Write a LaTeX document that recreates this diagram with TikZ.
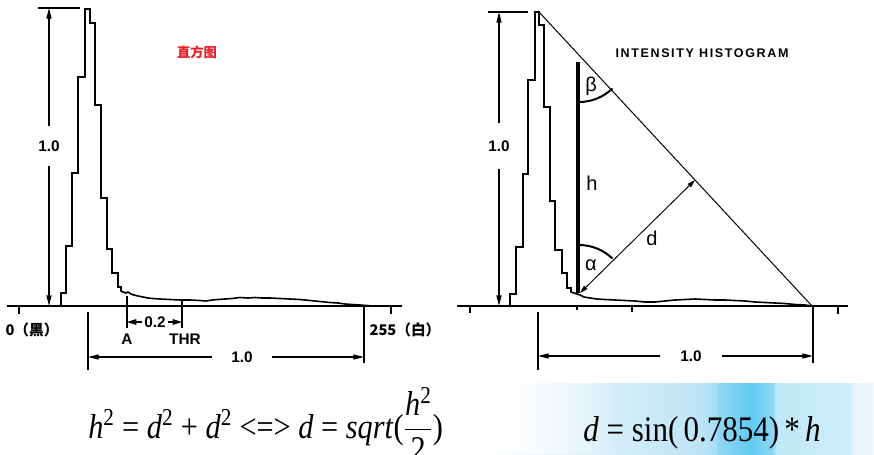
\documentclass[tikz,border=0pt]{standalone}
\usepackage{fontspec}
\usepackage{graphicx}
\setmainfont{Liberation Serif}
\newfontfamily\lsans{Liberation Sans}
\newfontfamily\cjk{Noto Sans CJK SC}
\usetikzlibrary{arrows.meta,fadings}
\definecolor{redlbl}{HTML}{E8202A}
\definecolor{bgA}{HTML}{F4FAFD}
\definecolor{bgB}{HTML}{D9EFF9}
\definecolor{bgC}{HTML}{BDE5F7}
\definecolor{bgD}{HTML}{A9DEF6}
\definecolor{bgE}{HTML}{8FD7F4}
\definecolor{bgF}{HTML}{62CBF2}
\definecolor{bgG}{HTML}{8AD6F4}
\definecolor{bgH}{HTML}{C0E8F8}
\definecolor{bgI}{HTML}{CDEEFA}
\definecolor{bgJ}{HTML}{E8F6FC}
\definecolor{bgK}{HTML}{EEF8FD}
\pgfdeclarehorizontalshading{bluebg}{100bp}{color(0bp)=(white); color(25bp)=(white); color(31bp)=(bgA); color(41bp)=(bgB); color(53.5bp)=(bgC); color(55.3bp)=(bgD); color(55.7bp)=(bgE); color(59.7bp)=(bgF); color(62.4bp)=(bgG); color(62.9bp)=(bgH); color(72bp)=(bgI); color(72.5bp)=(bgJ); color(75bp)=(bgK); color(100bp)=(bgK)}
\tikzfading[name=fadeR, left color=transparent!0, right color=transparent!100]
\begin{document}
\begin{tikzpicture}[x=0.75pt,y=-0.75pt,
  axisline/.style={line width=1.5pt},
  histo/.style={line width=1.2pt, line join=miter},
  dimline/.style={line width=0.8pt},
  dimarr/.style={line width=0.8pt, -{Triangle[length=8pt,width=3.8pt]}},
  smallarr/.style={line width=0.7pt, {Triangle[length=6pt,width=3.4pt]}-{Triangle[length=6pt,width=3.4pt]}},
  lbl/.style={font=\lsans\bfseries\fontsize{11.5}{13}\selectfont, inner sep=0pt},
  greek/.style={font=\lsans\fontsize{15}{17}\selectfont, inner sep=0pt},
  cjklbl/.style={font=\cjk\bfseries\fontsize{11}{13}\selectfont, inner sep=0pt},
  formula/.style={inner sep=0pt, anchor=base west}
]
\useasboundingbox (0,0) rectangle (874,454);
\clip (0,0) rectangle (874,454);
% background
\shade[shading=bluebg] (470,383) rectangle (874,454);
\fill[white, path fading=fadeR] (470,383) rectangle (620,454);

% ===================== LEFT HISTOGRAM =====================
\coordinate (LaxW) at (7,306);
\coordinate (LaxE) at (402,306);
\draw[axisline] (LaxW) -- (LaxE);
\coordinate (Lt1a) at (19,306); \coordinate (Lt1b) at (19,314);
\coordinate (Lt2a) at (391,306); \coordinate (Lt2b) at (391,314);
\draw[dimline] (Lt1a) -- (Lt1b) (Lt2a) -- (Lt2b);
\draw[histo] (49,306) -- (61,306) -- (61,293) -- (66,293) -- (66,246) -- (72,246) -- (72,173) -- (78,173) -- (78,77) -- (85,77) -- (85,9) -- (90,9) -- (90,23) -- (95,23) -- (95,105) -- (101,105) -- (101,198) -- (107,198) -- (107,249) -- (112,249) -- (112,273) -- (118,273) -- (118,287) -- (121,287) -- (121,291)
 -- (123,292) -- (126,293) -- (128,292) -- (131,294) -- (134,295) -- (138,296) -- (143,297) -- (148,298) -- (153,298.5) -- (160,299) -- (170,299.5) -- (180,300) -- (190,300) -- (200,300.5) -- (206,301) -- (212,300) -- (218,299.5) -- (225,299) -- (232,298.5) -- (240,297.5) -- (248,298) -- (255,297.5) -- (262,298) -- (270,298) -- (280,298.5) -- (290,299) -- (300,299.5) -- (310,300.5) -- (320,301.5) -- (330,302.5) -- (338,303) -- (345,304) -- (352,304.5) -- (360,305) -- (367,305.5) -- (372,306);
% vertical dimension
\coordinate (LtopA) at (38,8); \coordinate (LtopB) at (80,8);
\draw[dimline] (LtopA) -- (LtopB);
\node[lbl, minimum height=29pt] (Lv) at (49,146) {1.0};
\coordinate (Lvt) at (49,8); \coordinate (Lvb) at (49,306);
\draw[dimarr] (Lv) -- (Lvt);
\draw[dimarr] (Lv) -- (Lvb);
% red title
\node[font=\cjk\bfseries\fontsize{10}{12}\selectfont, text=redlbl, inner sep=0pt] (Ltitle) at (197,52) {直方图};
% axis labels
\node[cjklbl] (L0) at (32,330) {0（黑）};
\node[cjklbl] (L255) at (405,330) {255（白）};
% A / THR
\coordinate (Aa) at (127,296); \coordinate (Ab) at (127,328);
\coordinate (Ta) at (182,300); \coordinate (Tb) at (182,328);
\draw[dimline] (Aa) -- (Ab) (Ta) -- (Tb);
\node[lbl, minimum width=19pt] (L02) at (155,322) {0.2};
\coordinate (A2) at (127,322); \coordinate (T2) at (182,322);
\draw[line width=0.8pt, -{Triangle[length=7pt,width=4.2pt]}] (L02) -- (A2);
\draw[line width=0.8pt, -{Triangle[length=7pt,width=4.2pt]}] (L02) -- (T2);
\node[lbl] (LA) at (127,339) {A};
\node[lbl] (LTHR) at (185,339) {THR};
% bottom dimension
\coordinate (Lb1a) at (88,312); \coordinate (Lb1b) at (88,370);
\coordinate (Lb2a) at (364,306); \coordinate (Lb2b) at (364,363);
\draw[dimline] (Lb1a) -- (Lb1b) (Lb2a) -- (Lb2b);
\node[lbl, minimum width=45pt] (Lh) at (242,357) {1.0};
\coordinate (Lhl) at (88,357); \coordinate (Lhr) at (364,357);
\draw[dimarr] (Lh) -- (Lhl);
\draw[dimarr] (Lh) -- (Lhr);

% ===================== RIGHT HISTOGRAM =====================
\coordinate (RaxW) at (457,306);
\coordinate (RaxE) at (848,306);
\draw[axisline] (RaxW) -- (RaxE);
\coordinate (Rt1a) at (470,306); \coordinate (Rt1b) at (470,313);
\coordinate (Rt2a) at (577,306); \coordinate (Rt2b) at (577,310);
\coordinate (Rt3a) at (632,306); \coordinate (Rt3b) at (632,312);
\coordinate (Rt4a) at (838,306); \coordinate (Rt4b) at (838,314);
\draw[dimline] (Rt1a) -- (Rt1b) (Rt2a) -- (Rt2b) (Rt3a) -- (Rt3b) (Rt4a) -- (Rt4b);
\draw[histo] (500,306) -- (510,306) -- (510,294) -- (516,294) -- (516,247) -- (523,247) -- (523,174) -- (528,174) -- (528,80) -- (535,80) -- (535,12) -- (539,12) -- (539,25) -- (544,25) -- (544,107) -- (550,107) -- (550,201) -- (555,201) -- (555,250) -- (562,250) -- (562,273) -- (567,273) -- (567,288) -- (571,288) -- (571,292)
 -- (574,293) -- (577,294) -- (580,295) -- (584,297) -- (590,298) -- (597,299) -- (605,299.5) -- (615,300) -- (625,300.5) -- (635,301) -- (645,302) -- (655,302) -- (665,301) -- (675,300) -- (685,299.5) -- (695,299) -- (705,299.5) -- (715,300) -- (725,300) -- (735,300.5) -- (745,301) -- (755,302) -- (765,302.5) -- (775,303) -- (785,303.5) -- (795,304.5) -- (805,305) -- (812,306);
% diagonal
\coordinate (Dtop) at (539,12);
\coordinate (Dbot) at (812,306);
\draw[line width=0.75pt] (Dtop) -- (Dbot);
% vertical dimension
\coordinate (RtopA) at (488,12); \coordinate (RtopB) at (528,12);
\draw[dimline] (RtopA) -- (RtopB);
\node[lbl, minimum height=34pt] (Rv) at (499,146) {1.0};
\coordinate (Rvt) at (499,12); \coordinate (Rvb) at (499,306);
\draw[dimarr] (Rv) -- (Rvt);
\draw[dimarr] (Rv) -- (Rvb);
% title
\node[font=\lsans\bfseries\fontsize{9.4}{11}\selectfont\addfontfeature{LetterSpace=13}, inner sep=0pt] (Rtitle) at (702,53) {INTENSITY HISTOGRAM};
% thick bar h
\coordinate (Hbt) at (578,62); \coordinate (Hbb) at (578,293);
\draw[line width=3pt] (Hbt) -- (Hbb);
\node[greek] (Hh) at (592,183) {h};
% beta arc
\coordinate (Bs) at (579,102);
\draw[line width=1.5pt] (Bs) arc[start angle=90, end angle=46, radius=48];
\node[greek] (Hbeta) at (591,86) {β};
% alpha arc
\coordinate (As) at (579,245);
\draw[line width=1.5pt] (As) arc[start angle=270, end angle=314, radius=48];
\node[greek] (Halpha) at (591,265) {α};
% d arrow
\coordinate (Ds) at (580,293);
\coordinate (De) at (695,180);
\draw[smallarr] (Ds) -- (De);
\node[greek] (Hd) at (652,238) {d};
% bottom dimension
\coordinate (Rb1a) at (538,312); \coordinate (Rb1b) at (538,370);
\coordinate (Rb2a) at (813,306); \coordinate (Rb2b) at (813,363);
\draw[dimline] (Rb1a) -- (Rb1b) (Rb2a) -- (Rb2b);
\node[lbl, minimum width=46pt] (Rh) at (691,356) {1.0};
\coordinate (Rhl) at (538,356); \coordinate (Rhr) at (813,356);
\draw[dimarr] (Rh) -- (Rhl);
\draw[dimarr] (Rh) -- (Rhr);

% ===================== FORMULAS =====================
\node[formula] (F1) at (88,438) {\resizebox{266pt}{\height}{\fontsize{26}{30}\selectfont\textit{h}\textsuperscript{2} = \textit{d}\textsuperscript{2} + \textit{d}\textsuperscript{2} <=> \textit{d} = \textit{sqrt}($\displaystyle\frac{\mbox{\textit{h}\textsuperscript{2}}}{\mbox{2}}$)}};
\node[formula] (F2) at (583,441) {\resizebox{178pt}{\height}{\fontsize{27}{30}\selectfont\textit{d} = sin(\,0.7854)\,*\,\textit{h}}};
\end{tikzpicture}
\end{document}
